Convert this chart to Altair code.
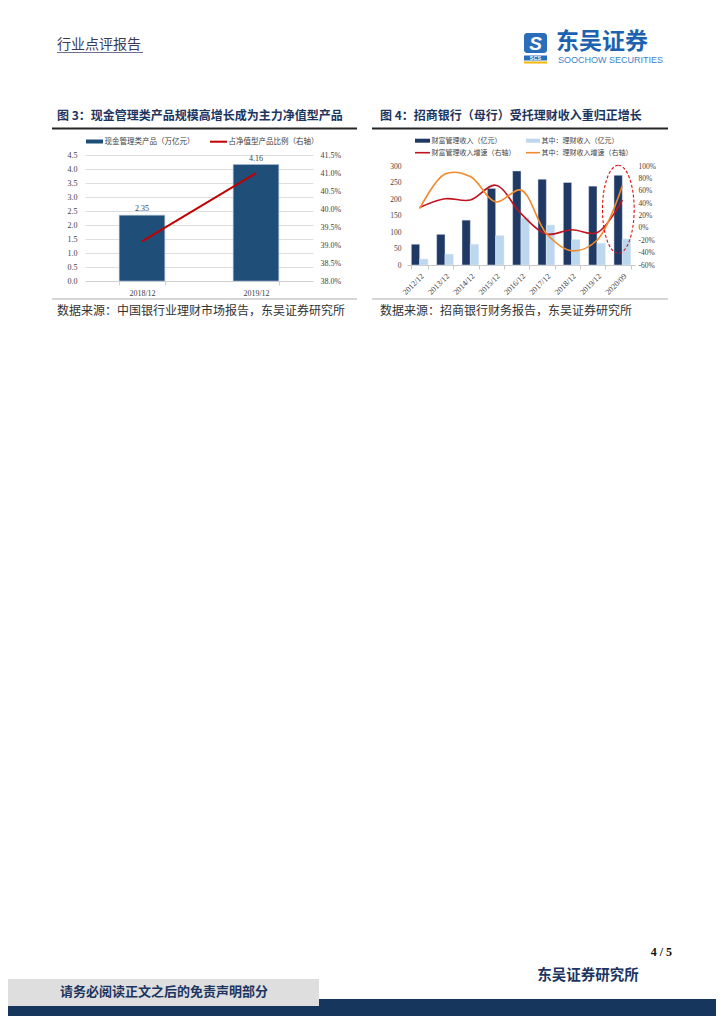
import altair as alt
import pandas as pd

SANS = "Noto Sans CJK SC"
SERIF = "Liberation Serif"
NAVY = "#1c3560"

# ---------------- data / texts ----------------
header_left = "行业点评报告"
logo_cn = "东吴证券"
logo_en = "SOOCHOW SECURITIES"
logo_mark = "S"
logo_sub = "SCS"

c3_title = "图 3：现金管理类产品规模高增长成为主力净值型产品"
c3_series = ["现金管理类产品（万亿元）", "占净值型产品比例（右轴）"]
c3_cats = ["2018/12", "2019/12"]
c3_scale = [2.35, 4.16]          # 万亿元
c3_ratio = [39.1, 41.0]          # %
c3_left_ticks = [0.0, 0.5, 1.0, 1.5, 2.0, 2.5, 3.0, 3.5, 4.0, 4.5]
c3_right_ticks = [38.0, 38.5, 39.0, 39.5, 40.0, 40.5, 41.0, 41.5]
c3_source = "数据来源：中国银行业理财市场报告，东吴证券研究所"

c4_title = "图 4：招商银行（母行）受托理财收入重归正增长"
c4_series = ["财富管理收入（亿元）", "其中：理财收入（亿元）",
             "财富管理收入增速（右轴）", "其中：理财收入增速（右轴）"]
c4_cats = ["2012/12", "2013/12", "2014/12", "2015/12", "2016/12",
           "2017/12", "2018/12", "2019/12", "2020/09"]
c4_wealth = [63, 93, 136, 232, 285, 260, 250, 239, 272]
c4_licai = [18, 33, 63, 89, 143, 121, 77, 66, 79]
c4_wealth_g = [33, 47, 45, 69, 23, -10, -3, -8, 45]
c4_licai_g = [31, 87, 83, 42, 61, -9, -37, -20, 68]
c4_mark_cat = ["2020/09"]
c4_mark_val = [30]
c4_left_ticks = [0, 50, 100, 150, 200, 250, 300]
c4_right_ticks = [-60, -40, -20, 0, 20, 40, 60, 80, 100]
c4_source = "数据来源：招商银行财务报告，东吴证券研究所"

page_no = "4 / 5"
footer_org = "东吴证券研究所"
disclaimer = "请务必阅读正文之后的免责声明部分"

LABEL = "#404040"


# ---------------- helpers ----------------
def txt(s, x, y, size, color, font=SANS, weight="normal", align="left",
        baseline="middle", italic=False):
    kw = {}
    if italic:
        kw["fontStyle"] = "italic"
    return alt.Chart(pd.DataFrame({"t": [s]})).mark_text(
        font=font, fontSize=size, color=color, fontWeight=weight,
        align=align, baseline=baseline, **kw
    ).encode(x=alt.value(x), y=alt.value(y), text="t:N")


def box(x, x2, y, y2, fill, **kw):
    return alt.Chart(pd.DataFrame({"k": [0]})).mark_rect(color=fill, **kw).encode(
        x=alt.value(x), x2=alt.value(x2), y=alt.value(y), y2=alt.value(y2))


def anchor(x, x2, y, y2):
    return box(x, x2, y, y2, "white", opacity=0)


def hline(x, x2, y, color, width=1.0):
    return alt.Chart(pd.DataFrame({"k": [0]})).mark_rule(
        color=color, strokeWidth=width).encode(
        x=alt.value(x), x2=alt.value(x2), y=alt.value(y), y2=alt.value(y))


# origin of every row = left edge of chart-3 plot area (page x 85)
OX = 85

# ---------------- header ----------------
header = alt.layer(
    anchor(8 - OX, 716 - OX, 0, 95),
    txt(header_left, 57 - OX, 37, 14, "#3a3a58"),
    hline(57 - OX, 143 - OX, 44.5, "#6f7090", 1),
    box(524 - OX, 547 - OX, 25, 45, "#2a6ebb", cornerRadius=3),
    txt(logo_mark, 535.5 - OX, 35.5, 19, "white", font="Liberation Sans",
        weight="bold", align="center", italic=True),
    box(524 - OX, 547 - OX, 47.5, 52.5, "#2a6ebb"),
    txt(logo_sub, 535.5 - OX, 50.2, 5.5, "white", font="Liberation Sans",
        weight="bold", align="center"),
    hline(524 - OX, 547 - OX, 54.5, "#f2b705", 2),
    txt(logo_cn, 556 - OX, 34, 23, "#1d62b0", weight="bold"),
    txt(logo_en, 558 - OX, 52, 9, "#3b82c9", font="Liberation Sans"),
).properties(width=623, height=95)

# ---------------- chart 3 ----------------
W3, H3 = 228, 126
df3 = pd.DataFrame({"cat": c3_cats, "scale": c3_scale, "ratio": c3_ratio})
x3 = alt.X("cat:N", sort=c3_cats, title=None,
           scale=alt.Scale(paddingInner=0.6, paddingOuter=0.3),
           axis=alt.Axis(labelAngle=0, labelFont=SERIF, labelFontSize=8,
                         labelColor=LABEL, domainColor="#d0d0d0",
                         tickColor="#d0d0d0", tickBand="extent", tickSize=4,
                         labelPadding=4))
y3 = alt.Y("scale:Q", title=None,
           scale=alt.Scale(domain=[0, 4.5], nice=False, zero=True),
           axis=alt.Axis(values=c3_left_ticks, format=".1f", grid=True,
                         gridColor="#dddddd", domain=False, ticks=False,
                         labelPadding=8, labelFont=SERIF, labelFontSize=8,
                         labelColor=LABEL))
bars3 = alt.Chart(df3).mark_bar(color="#1f4e79", stroke="#a9bed6",
                                strokeWidth=0.6).encode(x=x3, y=y3)
lab3 = alt.Chart(df3).mark_text(font=SERIF, fontSize=8, color=LABEL,
                                dy=-6).encode(x=x3, y=y3, text=alt.Text("scale:Q", format=".2f"))
line3 = alt.Chart(df3).mark_line(color="#c00000", strokeWidth=2).encode(
    x=x3,
    y=alt.Y("ratio:Q", title=None,
            scale=alt.Scale(domain=[38, 41.5], nice=False, zero=False),
            axis=alt.Axis(orient="right", values=c3_right_ticks,
                          labelExpr="format(datum.value, '.1f') + '%'",
                          grid=False, domain=False, ticks=False, labelPadding=7,
                          labelFont=SERIF, labelFontSize=8, labelColor=LABEL)))

chart3 = alt.layer(
    anchor(8 - OX, 364 - OX, -52, 167),
    alt.layer(bars3, lab3),
    line3,
    txt(c3_title, -28, -39, 12, NAVY, weight="bold"),
    hline(-33, 272, -26.5, "#262626", 2),
    box(1, 18, -15.5, -11.5, "#1f4e79"),
    txt(c3_series[0], 19.5, -13.3, 7.5, LABEL),
    hline(125, 142, -13.3, "#c00000", 2),
    txt(c3_series[1], 143.5, -13.3, 7.5, LABEL),
    hline(-33, 272, 144, "#c8c8c8", 1.5),
    txt(c3_source, -28, 156, 12, "#333333"),
).resolve_scale(y="independent").properties(width=W3, height=H3)

# ---------------- chart 4 ----------------
# plot area top aligned with chart 3 (page y 155); data range page y 166..265
W4, H4 = 228, 110
R4 = [110, 11]
df4b = pd.DataFrame({
    "cat": c4_cats * 2,
    "series": [c4_series[0]] * len(c4_cats) + [c4_series[1]] * len(c4_cats),
    "value": c4_wealth + c4_licai,
})
df4r = pd.DataFrame({"cat": c4_cats, "g": c4_wealth_g})
df4o = pd.DataFrame({"cat": c4_cats, "g": c4_licai_g})
df4m = pd.DataFrame({"cat": c4_mark_cat, "g": c4_mark_val})

x4 = alt.X("cat:N", sort=c4_cats, title=None,
           scale=alt.Scale(paddingInner=0.34, paddingOuter=0.17),
           axis=alt.Axis(labelAngle=-45, labelFont=SERIF, labelFontSize=8,
                         labelColor=LABEL, domainColor="#c8c8c8",
                         tickColor="#c8c8c8", tickBand="extent", tickSize=4,
                         labelPadding=3))
bars4 = alt.Chart(df4b).mark_bar(stroke="#dfe8f3", strokeWidth=0.5).encode(
    x=x4,
    xOffset=alt.XOffset("series:N", sort=c4_series[:2],
                        scale=alt.Scale(paddingInner=0, paddingOuter=0)),
    y=alt.Y("value:Q", title=None,
            scale=alt.Scale(domain=[0, 300], nice=False, range=R4),
            axis=alt.Axis(values=c4_left_ticks, grid=False, domain=False,
                          ticks=False, labelPadding=6, labelFont=SERIF,
                          labelFontSize=7.5, labelColor=LABEL)),
    color=alt.Color("series:N", legend=None,
                    scale=alt.Scale(domain=c4_series[:2],
                                    range=["#1f3864", "#bdd7ee"])))
yr = alt.Y("g:Q", title=None,
           scale=alt.Scale(domain=[-60, 100], nice=False, zero=False, range=R4),
           axis=alt.Axis(orient="right", values=c4_right_ticks,
                         labelExpr="datum.value + '%'", grid=False, domain=False,
                         ticks=False, labelPadding=3, labelFont=SERIF,
                         labelFontSize=7.5, labelColor=LABEL))
line4r = alt.Chart(df4r).mark_line(color="#c0141e", strokeWidth=1.6,
                                   interpolate="catmull-rom").encode(x=x4, y=yr)
line4o = alt.Chart(df4o).mark_line(color="#f08a2c", strokeWidth=1.6,
                                   interpolate="catmull-rom").encode(x=x4, y=yr)
ell = alt.Chart(df4m).mark_point(
    shape="M0,-1 A0.36,1 0 1,1 0,1 A0.36,1 0 1,1 0,-1 Z",
    size=7744, filled=False, color="#e01010", strokeWidth=1.1,
    strokeDash=[3, 2], opacity=1, xOffset=-4).encode(x=x4, y=yr)

chart4 = alt.layer(
    anchor(364 - 407, 716 - 407, -52, 167),
    bars4,
    alt.layer(line4r, line4o, ell),
    txt(c4_title, -27, -39, 12, NAVY, weight="bold"),
    hline(-35, 261, -26.5, "#262626", 2),
    box(8, 23, -16.3, -12.3, "#1f3864"),
    txt(c4_series[0], 24.5, -14.3, 7, LABEL),
    box(119, 133, -16.3, -12.3, "#bdd7ee"),
    txt(c4_series[1], 134.5, -14.3, 7, LABEL),
    hline(8, 23, -2.3, "#c0141e", 1.6),
    txt(c4_series[2], 24.5, -2.3, 7, LABEL),
    hline(119, 133, -2.3, "#f08a2c", 1.6),
    txt(c4_series[3], 134.5, -2.3, 7, LABEL),
    hline(-35, 261, 144, "#c8c8c8", 1.5),
    txt(c4_source, -27, 156, 12, "#333333"),
).resolve_scale(y="independent").properties(width=W4, height=H4)

# ---------------- footer ----------------
footer = alt.layer(
    anchor(8 - OX, 716 - OX, 0, 694),
    txt(page_no, 672 - OX, 630, 12, "#111111", font=SERIF, weight="bold", align="right"),
    txt(footer_org, 588 - OX, 654, 14.5, NAVY, weight="bold", align="center"),
    box(8 - OX, 716 - OX, 677, 694, "#17365d"),
    box(8 - OX, 319 - OX, 657, 684, "#dedede"),
    txt(disclaimer, 164 - OX, 670, 13, NAVY, weight="bold", align="center"),
).properties(width=623, height=694)

chart = alt.vconcat(
    header,
    alt.hconcat(chart3, chart4, spacing=0),
    footer,
    spacing=0,
).properties(padding=0).configure_view(stroke=None).configure_axis(
    labelColor=LABEL, titleColor=LABEL)

chart.save("out.html", embed_options={"renderer": "svg", "actions": False})
